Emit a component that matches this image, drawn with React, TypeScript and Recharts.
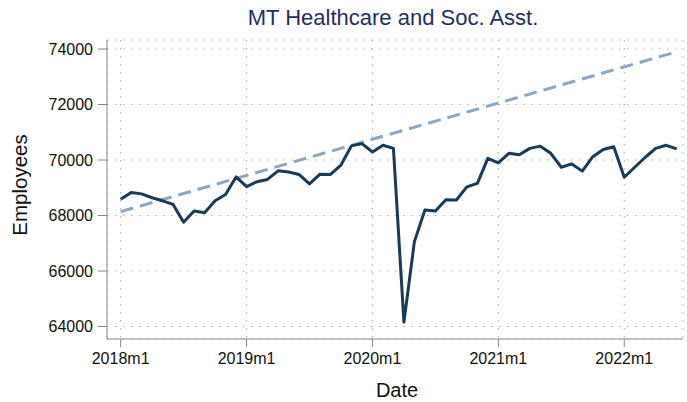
import React from 'react';
import { LineChart, Line, XAxis, YAxis, CartesianGrid } from 'recharts';

// Monthly employees, 2018m1 .. 2022m6
const employees = [
  68590, 68830, 68780, 68640, 68530, 68400, 67760, 68160, 68100, 68530, 68760, 69390,
  69040, 69220, 69300, 69610, 69570, 69480, 69140, 69490, 69480, 69820, 70510, 70590,
  70290, 70530, 70420, 64160, 67060, 68200, 68160, 68570, 68560, 69030, 69160, 70060,
  69900, 70240, 70190, 70420, 70500, 70240, 69740, 69860, 69600, 70120, 70380, 70480,
  69380, 69740, 70100, 70420, 70530, 70400,
];

// pre-pandemic linear trend, start and end month
const trendMonths = [0, 53];
const trendValues = [68140, 73900];

const xTickMonths = [0, 12, 24, 36, 48];
const xTickLabels = ['2018m1', '2019m1', '2020m1', '2021m1', '2022m1'];
const yTicks = [64000, 66000, 68000, 70000, 72000, 74000];

const seriesData = employees.map((v, i) => ({ t: i, v }));
const trendData = trendMonths.map((t, i) => ({ t, v: trendValues[i] }));

const font = '"Liberation Sans", Arial, Helvetica, sans-serif';
const tickStyle = { fontSize: 16, fill: '#111', fontFamily: font };

const App: React.FC = () => {
  return (
    <div style={{ position: 'relative', width: 687, height: 402, background: '#fff', fontFamily: font }}>
      <style>{'body{margin:0}'}</style>
      <div
        style={{
          position: 'absolute', left: 0, width: 786, top: 7, textAlign: 'center',
          fontSize: 22, color: '#1f3060', lineHeight: '22px', whiteSpace: 'nowrap',
        }}
      >
        MT Healthcare and Soc. Asst.
      </div>
      <div
        style={{
          position: 'absolute', left: 19, top: 185, fontSize: 20.5, color: '#111', lineHeight: '21px',
          transform: 'translate(-50%, -50%) rotate(-90deg)', whiteSpace: 'nowrap',
        }}
      >
        Employees
      </div>
      <div
        style={{
          position: 'absolute', left: 0, width: 794, top: 380, textAlign: 'center',
          fontSize: 20, color: '#111', lineHeight: '20px',
        }}
      >
        Date
      </div>
      <LineChart
        width={687}
        height={402}
        margin={{ top: 40, right: 4, bottom: 0, left: 0 }}
        style={{ position: 'absolute', left: 0, top: 0 }}
      >
        <CartesianGrid stroke="#b5b5b5" strokeDasharray="1.5 6.5" strokeWidth={1.2} />
        <XAxis
          type="number"
          dataKey="t"
          domain={[-1.3, 53.6]}
          allowDataOverflow
          ticks={xTickMonths}
          tickFormatter={(t: number) => xTickLabels[xTickMonths.indexOf(t)]}
          tick={tickStyle}
          tickSize={8}
          tickMargin={6}
          stroke="#888"
          height={63}
        />
        <YAxis
          type="number"
          domain={[63550, 74325]}
          allowDataOverflow
          ticks={yTicks}
          tick={tickStyle}
          tickSize={9}
          tickMargin={5}
          stroke="#888"
          width={107}
        />
        <Line
          data={trendData}
          dataKey="v"
          stroke="#8ea7bf"
          strokeWidth={3}
          strokeDasharray="13 7"
          dot={false}
          isAnimationActive={false}
        />
        <Line
          data={seriesData}
          dataKey="v"
          stroke="#1a3a56"
          strokeWidth={3}
          strokeLinejoin="round"
          dot={false}
          isAnimationActive={false}
        />
      </LineChart>
    </div>
  );
};

export default App;
